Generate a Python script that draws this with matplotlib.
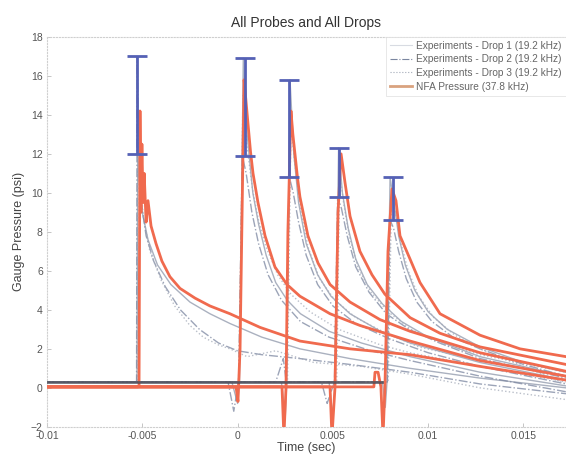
import matplotlib
matplotlib.use("Agg")
import matplotlib.pyplot as plt
from matplotlib.lines import Line2D

plt.rcParams['font.family'] = ['Liberation Sans', 'DejaVu Sans']

# ======== NFA pressure traces (37.8 kHz) ========
t_nfa1 = [-0.0100, -0.00522, -0.00517, -0.00512, -0.00507, -0.00502, -0.00496, -0.00490, -0.00480,
          -0.00470, -0.00454, -0.00428, -0.00397, -0.00355, -0.00302, -0.00223, -0.00145, -0.00040,
          0.00118, 0.00327, 0.00590, 0.00905, 0.01272, 0.01723]
p_nfa1 = [0.05, 0.05, 0.1, 14.2, 9.0, 12.5, 9.5, 11.0, 8.5,
          9.6, 8.3, 7.4, 6.5, 5.7, 5.1, 4.6, 4.2, 3.8,
          3.1, 2.4, 2.0, 1.7, 1.1, 0.4]

t_nfa2 = [-0.0100, -0.00008, 0.00002, 0.00013, 0.00034, 0.00045, 0.00055, 0.00068, 0.00081, 0.00107,
          0.00144, 0.00196, 0.00259, 0.00327, 0.00485, 0.00642, 0.00905, 0.01272, 0.01723]
p_nfa2 = [0.05, 0.05, -0.7, 2.0, 15.8, 14.6, 13.5, 12.1, 11.0, 9.5,
          7.8, 6.2, 5.3, 4.7, 3.8, 3.2, 2.4, 1.4, 0.6]

t_nfa3 = [-0.0100, 0.00233, 0.00243, 0.00254, 0.00264, 0.00280, 0.00290, 0.00301, 0.00314, 0.00327,
          0.00369, 0.00422, 0.00485, 0.00590, 0.00747, 0.00905, 0.01272, 0.01723]
p_nfa3 = [0.05, 0.05, -2.5, 0.0, 8.0, 14.2, 13.0, 12.0, 10.8, 9.8,
          7.8, 6.4, 5.3, 4.4, 3.5, 2.9, 1.8, 0.85]

t_nfa4 = [-0.0100, 0.00485, 0.00495, 0.00511, 0.00527, 0.00543, 0.00564, 0.00590, 0.00642,
          0.00705, 0.00773, 0.00905, 0.01062, 0.01272, 0.01723]
p_nfa4 = [0.05, 0.05, -2.5, 0.0, 9.0, 12.0, 10.5, 8.8, 7.0,
          5.8, 4.8, 3.6, 2.8, 2.1, 1.2]

t_nfa5 = [-0.0100, 0.00715, 0.00721, 0.00737, 0.00752, 0.00763, 0.00773, 0.00789, 0.00810,
          0.00831, 0.00852, 0.00905, 0.00957, 0.01062, 0.01272, 0.01482, 0.01723]
p_nfa5 = [0.05, 0.05, 0.8, 0.8, 0.05, -2.5, 0.0, 7.0, 10.2,
          9.6, 7.8, 6.6, 5.4, 3.8, 2.7, 2.0, 1.6]

# ======== Experiment traces (19.2 kHz), drop 1/2/3 for each of the five events ========
# event 1
t_e1a = [-0.0100, -0.00528, -0.00524, -0.00515, -0.00500, -0.00470, -0.00420, -0.00350, -0.00250,
         -0.00145, -0.00040, 0.00127, 0.00327, 0.00590, 0.00905, 0.01272, 0.01723]
p_e1a = [0.3, 0.3, 12.0, 10.5, 9.0, 7.6, 6.3, 5.3, 4.4, 3.8, 3.3, 2.6, 2.0, 1.5, 1.0, 0.5, 0.0]
t_e1b = [-0.0100, -0.00530, -0.00527, -0.00518, -0.00505, -0.00480, -0.00440, -0.00380, -0.00300,
         -0.00200, -0.00100, 0.00000, 0.00127, 0.00327, 0.00590, 0.00905, 0.01272, 0.01723]
p_e1b = [0.3, 0.3, 17.0, 12.5, 9.5, 7.8, 6.5, 5.2, 4.0, 3.0, 2.3, 1.9, 1.7, 1.5, 1.2, 0.8, 0.2, -0.3]
t_e1c = [-0.0100, -0.00526, -0.00522, -0.00512, -0.00495, -0.00460, -0.00400, -0.00330, -0.00250,
         -0.00180, -0.00100, -0.00040, 0.00050, 0.00200, 0.00400, 0.00650, 0.00905, 0.01272, 0.01723]
p_e1c = [0.3, 0.3, 14.5, 11.0, 8.8, 7.0, 5.5, 4.2, 3.2, 2.6, 2.2, 2.0, 1.6, 1.9, 1.3, 1.1, 0.7, 0.0, -0.6]
# event 2
t_e2a = [-0.0100, -0.00030, 0.00000, 0.00010, 0.00030, 0.00050, 0.00080, 0.00110, 0.00150,
         0.00200, 0.00260, 0.00330, 0.00480, 0.00650, 0.00905, 0.01272, 0.01723]
p_e2a = [0.3, 0.3, -0.8, 0.3, 16.9, 13.0, 10.0, 8.4, 6.8, 5.4, 4.5, 3.8, 2.9, 2.3, 1.6, 0.8, 0.1]
t_e2b = [-0.0100, -0.00050, -0.00020, 0.00005, 0.00025, 0.00045, 0.00075, 0.00110, 0.00160,
         0.00230, 0.00330, 0.00480, 0.00700, 0.00905, 0.01272, 0.01723]
p_e2b = [0.3, 0.3, -1.2, 0.3, 11.9, 11.0, 9.0, 7.4, 5.8, 4.5, 3.4, 2.6, 1.9, 1.4, 0.6, -0.2]
t_e2c = [-0.0100, -0.00010, 0.00008, 0.00028, 0.00048, 0.00078, 0.00110, 0.00150, 0.00210,
         0.00280, 0.00380, 0.00530, 0.00750, 0.00905, 0.01272, 0.01723]
p_e2c = [0.3, 0.3, 0.3, 15.0, 12.5, 10.2, 8.6, 7.2, 5.8, 4.8, 3.9, 3.0, 2.2, 1.8, 1.1, 0.3]
# event 3
t_e3a = [-0.0100, 0.00230, 0.00250, 0.00258, 0.00275, 0.00295, 0.00320, 0.00360, 0.00420,
         0.00490, 0.00590, 0.00750, 0.00905, 0.01272, 0.01723]
p_e3a = [0.3, 0.3, -1.5, 0.3, 15.8, 12.0, 9.5, 7.4, 5.8, 4.7, 3.8, 2.9, 2.3, 1.3, 0.4]
t_e3b = [-0.0100, 0.00200, 0.00240, 0.00255, 0.00272, 0.00292, 0.00320, 0.00360, 0.00420,
         0.00500, 0.00620, 0.00800, 0.01000, 0.01272, 0.01723]
p_e3b = [0.3, 0.3, 1.5, 0.3, 10.8, 10.0, 8.5, 6.8, 5.3, 4.2, 3.3, 2.5, 1.8, 1.1, 0.2]
t_e3c = [-0.0100, 0.00245, 0.00262, 0.00280, 0.00300, 0.00330, 0.00370, 0.00430, 0.00510,
         0.00620, 0.00780, 0.00950, 0.01272, 0.01723]
p_e3c = [0.3, 0.3, 0.3, 13.5, 11.5, 9.2, 7.2, 5.6, 4.5, 3.6, 2.8, 2.1, 1.4, 0.6]
# event 4
t_e4a = [-0.0100, 0.00480, 0.00500, 0.00512, 0.00530, 0.00550, 0.00580, 0.00620, 0.00680,
         0.00760, 0.00860, 0.01000, 0.01272, 0.01723]
p_e4a = [0.3, 0.3, -1.5, 0.3, 12.3, 10.0, 8.2, 6.6, 5.3, 4.3, 3.4, 2.6, 1.6, 0.6]
t_e4b = [-0.0100, 0.00440, 0.00470, 0.00508, 0.00525, 0.00545, 0.00575, 0.00620, 0.00690,
         0.00780, 0.00900, 0.01060, 0.01272, 0.01723]
p_e4b = [0.3, 0.3, -0.8, 0.3, 9.8, 9.2, 7.8, 6.2, 4.9, 3.8, 3.0, 2.3, 1.5, 0.5]
t_e4c = [-0.0100, 0.00510, 0.00520, 0.00536, 0.00556, 0.00586, 0.00630, 0.00700, 0.00790,
         0.00910, 0.01060, 0.01272, 0.01723]
p_e4c = [0.3, 0.3, 0.3, 11.0, 9.5, 7.8, 6.2, 4.9, 3.9, 3.0, 2.3, 1.7, 0.8]
# event 5
t_e5a = [-0.0100, 0.00760, 0.00775, 0.00784, 0.00800, 0.00820, 0.00845, 0.00880, 0.00930,
         0.01000, 0.01100, 0.01272, 0.01500, 0.01723]
p_e5a = [0.3, 0.3, -1.0, 0.3, 10.8, 9.5, 7.8, 6.3, 5.0, 3.9, 3.0, 2.1, 1.3, 0.8]
t_e5b = [-0.0100, 0.00770, 0.00786, 0.00800, 0.00818, 0.00845, 0.00885, 0.00940, 0.01020,
         0.01130, 0.01272, 0.01500, 0.01723]
p_e5b = [0.3, 0.3, 0.3, 8.6, 8.2, 7.0, 5.6, 4.4, 3.4, 2.6, 2.0, 1.2, 0.6]
t_e5c = [-0.0100, 0.00775, 0.00790, 0.00808, 0.00828, 0.00855, 0.00895, 0.00950, 0.01030,
         0.01140, 0.01272, 0.01500, 0.01723]
p_e5c = [0.3, 0.3, 0.3, 9.8, 9.0, 7.5, 6.0, 4.7, 3.6, 2.7, 2.0, 1.1, 0.2]

# ======== Peak range bars ========
bar_t = [-0.00528, 0.00039, 0.00270, 0.00532, 0.00815]
bar_lo = [12.0, 11.9, 10.8, 9.8, 8.6]
bar_hi = [17.0, 16.9, 15.8, 12.3, 10.8]

legend_labels = ["Experiments - Drop 1 (19.2 kHz)", "Experiments - Drop 2 (19.2 kHz)",
                 "Experiments - Drop 3 (19.2 kHz)", "NFA Pressure (37.8 kHz)"]

RED = '#f06a4e'
BLUE = '#5561b5'
exp_styles = [('#8e97aa', '-'), ('#7b86a0', '-.'), ('#a3aab8', ':')]

fig = plt.figure(figsize=(5.66, 4.67), dpi=100)
ax = fig.add_axes([0.083, 0.086, 0.917, 0.835])

exp_traces = [
    [(t_e1a, p_e1a), (t_e1b, p_e1b), (t_e1c, p_e1c)],
    [(t_e2a, p_e2a), (t_e2b, p_e2b), (t_e2c, p_e2c)],
    [(t_e3a, p_e3a), (t_e3b, p_e3b), (t_e3c, p_e3c)],
    [(t_e4a, p_e4a), (t_e4b, p_e4b), (t_e4c, p_e4c)],
    [(t_e5a, p_e5a), (t_e5b, p_e5b), (t_e5c, p_e5c)],
]
for event in exp_traces:
    for (t, p), (c, ls) in zip(event, exp_styles):
        ax.plot(t, p, color=c, ls=ls, lw=1.0, alpha=0.75, zorder=2)

for t, p in [(t_nfa1, p_nfa1), (t_nfa2, p_nfa2), (t_nfa3, p_nfa3), (t_nfa4, p_nfa4), (t_nfa5, p_nfa5)]:
    ax.plot(t, p, color=RED, lw=2.0, zorder=3)

# dark baseline where the experiment traces overlap before impact
ax.plot([t_e1a[0], t_e5a[1]], [p_e1a[0], p_e5a[0]], color='#4a4a55', lw=2.0, alpha=0.8, zorder=4)

ax.errorbar(bar_t, bar_lo, yerr=[[0] * len(bar_lo), [h - l for h, l in zip(bar_hi, bar_lo)]],
            fmt='none', ecolor=BLUE, elinewidth=2.0, capsize=7.5, capthick=2.0, zorder=5)

ax.set_xlim(-0.01, 0.01723)
ax.set_ylim(-2, 18)
ax.set_xticks([-0.01, -0.005, 0, 0.005, 0.01, 0.015])
ax.set_xticklabels(['-0.01', '-0.005', '0', '0.005', '0.01', '0.015'])
ax.set_yticks(range(-2, 19, 2))
ax.tick_params(direction='in', length=3, width=0.6, color='#bbbbbb', labelsize=7.5,
               labelcolor='#555555', pad=3)
for side in ['top', 'bottom', 'left']:
    ax.spines[side].set_color('#cfcfcf')
    ax.spines[side].set_linewidth(0.8)
    ax.spines[side].set_linestyle(':')
ax.spines['right'].set_visible(False)

ax.set_xlabel("Time (sec)", fontsize=9, color='#444444', labelpad=1)
ax.set_ylabel("Gauge Pressure (psi)", fontsize=9, color='#444444', labelpad=4)
ax.set_title("All Probes and All Drops", fontsize=10, color='#333333', pad=7)

handles = [Line2D([], [], color='#d8dbe2', lw=0.8, ls='-'),
           Line2D([], [], color=exp_styles[1][0], lw=0.8, ls='-.'),
           Line2D([], [], color=exp_styles[2][0], lw=0.8, ls=':'),
           Line2D([], [], color='#d9a27f', lw=2.0)]
leg = ax.legend(handles, legend_labels, loc='upper right', fontsize=7.3, frameon=True,
                handlelength=2.2, handletextpad=0.4, labelspacing=0.35, borderpad=0.4,
                borderaxespad=0.0)
leg.get_frame().set_edgecolor('#dddddd')
leg.get_frame().set_linewidth(0.6)
leg.get_frame().set_boxstyle('square', pad=0)
for txt in leg.get_texts():
    txt.set_color('#666666')

fig.savefig("out.png", dpi=100)
